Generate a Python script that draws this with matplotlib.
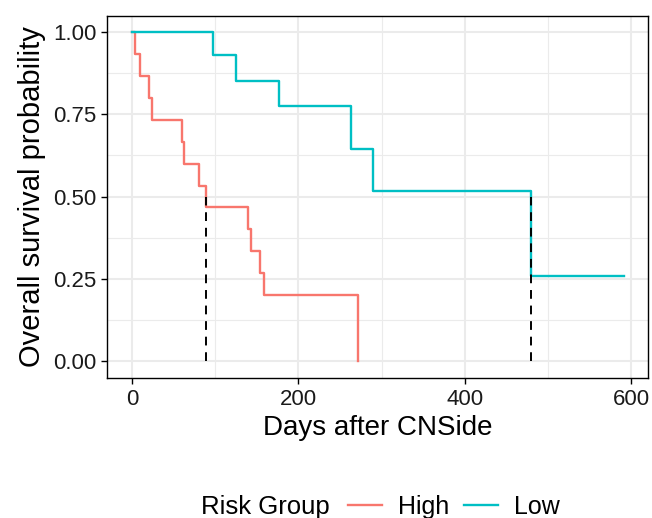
import matplotlib
matplotlib.use('Agg')
from matplotlib import pyplot as plt
from matplotlib.lines import Line2D
import numpy as np

plt.rcParams['font.family'] = ['Liberation Sans', 'DejaVu Sans']

# Kaplan-Meier estimates
high_days = [0, 4, 10, 20, 24, 60, 62, 81, 89, 140, 143, 154, 159, 271]
high_surv = [1.0, 0.933, 0.867, 0.800, 0.733, 0.667, 0.600, 0.533, 0.467,
             0.400, 0.333, 0.267, 0.200, 0.0]
low_days = [0, 97, 125, 177, 263, 289, 480, 591]
low_surv = [1.0, 0.929, 0.851, 0.774, 0.645, 0.516, 0.258, 0.258]

median_days = [89, 480]
group_names = ['High', 'Low']
group_colors = ['#F8766D', '#00BFC4']

xticks = [0, 200, 400, 600]
yticks = [0.0, 0.25, 0.5, 0.75, 1.0]
ytick_labels = ['0.00', '0.25', '0.50', '0.75', '1.00']

fig = plt.figure(figsize=(6.52, 5.18), dpi=100)
ax = fig.add_axes([107/652, 1-378/518, 541/652, 362/518])

ax.step(high_days, high_surv, where='post', color=group_colors[0], lw=1.7, zorder=3)
ax.step(low_days, low_surv, where='post', color=group_colors[1], lw=1.7, zorder=3)

for d in median_days:
    ax.plot([d, d], [0, 0.5], color='black', lw=1.4, linestyle=(0, (4.5, 3.5)), zorder=4)

ax.set_xlim(-30, 620)
ax.set_ylim(-0.052, 1.049)
ax.set_xticks(xticks)
ax.set_xticks([100, 300, 500], minor=True)
ax.set_yticks(yticks)
ax.set_yticklabels(ytick_labels)
ax.set_yticks([0.125, 0.375, 0.625, 0.875], minor=True)

ax.grid(which='major', color='#EBEBEB', lw=1.5, zorder=0)
ax.grid(which='minor', color='#EBEBEB', lw=0.8, zorder=0)
ax.set_axisbelow(True)
ax.tick_params(which='major', direction='out', length=4.3, width=1, color='black',
               labelsize=16, pad=3.4, labelcolor='#1a1a1a')
ax.tick_params(which='minor', length=0)
for s in ax.spines.values():
    s.set_color('black')
    s.set_linewidth(1)

ax.set_xlabel('Days after CNSide', fontsize=20, labelpad=4)
ax.set_ylabel('Overall survival probability', fontsize=21, labelpad=5)

fig.text(201/652, 1-507/518, 'Risk Group', fontsize=18.5, va='center', ha='left')
handles = [Line2D([], [], color=c, lw=1.7) for c in group_colors]
fig.legend(handles, group_names, loc='center left', bbox_to_anchor=(348/652, 1-507/518),
           ncol=2, frameon=False, fontsize=18, borderpad=0, borderaxespad=0,
           handlelength=1.35, handletextpad=0.65, columnspacing=0.6)

fig.savefig('out.png', dpi=100)
